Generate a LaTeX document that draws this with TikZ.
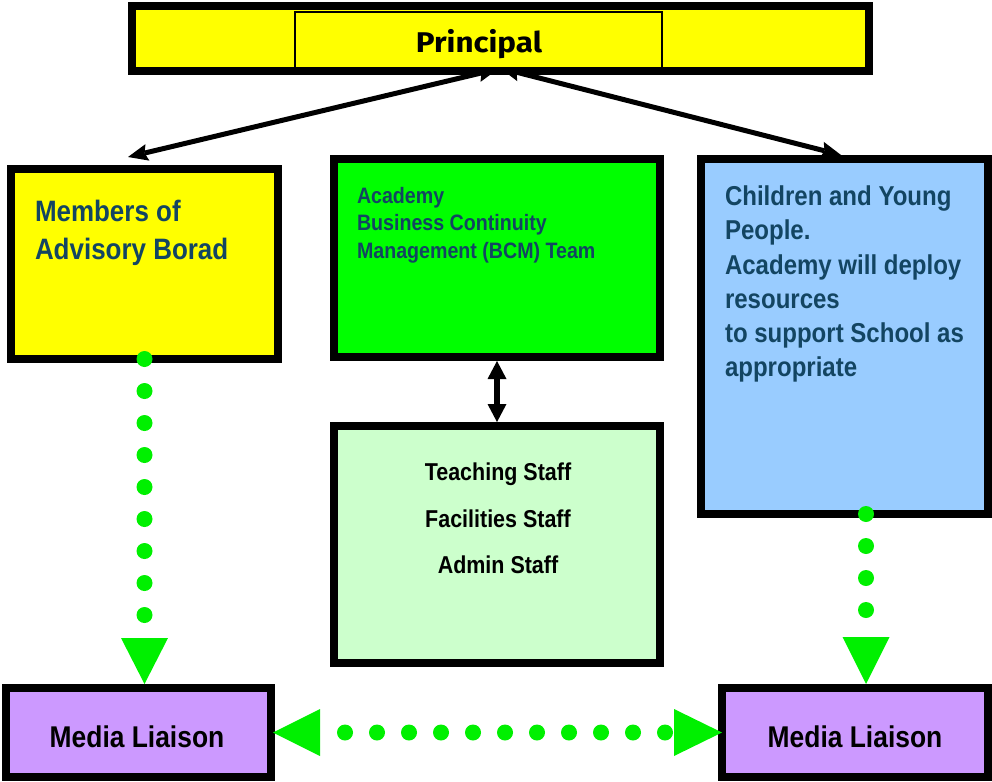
\documentclass[tikz,border=0pt]{standalone}
\usepackage{fontspec}
\usetikzlibrary{arrows.meta,calc}

\newfontfamily\narrowsans{Liberation Sans}[FakeStretch=0.88]
\newfontfamily\headsans{Fira Sans}[FakeStretch=1.1]

\definecolor{chartyellow}{HTML}{FFFF00}
\definecolor{chartgreen}{HTML}{00FF00}
\definecolor{chartblue}{HTML}{99CCFF}
\definecolor{chartmint}{HTML}{CCFFCC}
\definecolor{chartlilac}{HTML}{CC99FF}
\definecolor{chartdots}{HTML}{00F000}
\definecolor{chartink}{HTML}{134562}

\begin{document}
\begin{tikzpicture}[x=1pt,y=-1pt,
  orgbox/.style={draw=black, line width=8pt, inner sep=0pt, outer sep=0pt},
  boxtext/.style={inner sep=0pt, outer sep=0pt, align=left, text=chartink},
  linkarrow/.style={draw=black, line width=5pt,
    {Stealth[length=20pt,width=17pt,inset=3pt,line width=0pt]}-{Stealth[length=20pt,width=17pt,inset=3pt,line width=0pt]}},
  dotlink/.style={draw=chartdots, line width=16pt, line cap=round,
    dash pattern=on 0pt off 32pt}
]
\useasboundingbox (0,0) rectangle (992,781);

% boxes (positions are the centre lines of the thick borders)
\node[orgbox, fill=chartyellow, minimum width=267pt, minimum height=190pt] (adv) at (144.5,264) {};
\node[orgbox, fill=chartgreen, minimum width=326pt, minimum height=198pt] (bcm) at (497,258) {};
\node[orgbox, fill=chartblue, minimum width=287pt, minimum height=355pt] (cyp) at (844.5,336.5) {};
\node[orgbox, fill=chartmint, minimum width=326pt, minimum height=237pt] (staff) at (497,544.5) {};
\node[orgbox, fill=chartlilac, minimum width=265pt, minimum height=89pt] (mlleft) at (138.5,732.5) {};
\node[orgbox, fill=chartlilac, minimum width=266pt, minimum height=89pt] (mlright) at (855,732.5) {};

% arrows from the principal (drawn before the principal box covers their ends)
\coordinate (pleft) at (498,69);
\coordinate (pright) at (500,68);
\coordinate (advtip) at ($(adv.north west)+(117,-12)$);
\coordinate (cyptip) at ($(cyp.north west)+(140,-4)$);
\draw[linkarrow] (pleft) -- (advtip);
\draw[linkarrow] (pright) -- (cyptip);

% principal
\node[orgbox, fill=chartyellow, minimum width=737pt, minimum height=65pt] (principal) at (500.5,38.5) {};
\node[draw=black, line width=1.2pt, inner sep=0pt, outer sep=0pt, minimum width=367pt, minimum height=62pt] (pinner) at (478.5,43) {};
\draw[black, line width=8pt] (principal.south west) -- (principal.south east);
\node[anchor=base, inner sep=0pt, font=\headsans\bfseries\fontsize{28.5}{32}\selectfont] (ptext) at (479,52.5) {Principal};

% box texts
\node[boxtext, anchor=north west, font=\narrowsans\bfseries\fontsize{29.5}{38}\selectfont] (advtext) at (35,200) {Members of\\Advisory Borad};
\node[boxtext, anchor=north west, font=\narrowsans\bfseries\fontsize{22.3}{27.5}\selectfont] (bcmtext) at (357,187) {Academy\\Business Continuity\\Management (BCM) Team};
\node[boxtext, anchor=north west, font=\narrowsans\bfseries\fontsize{27.3}{34.2}\selectfont] (cyptext) at (725,186) {Children and Young\\People.\\Academy will deploy\\resources\\to support School as\\appropriate};
\node[inner sep=0pt, anchor=north, align=center, text=black, font=\narrowsans\bfseries\fontsize{24.4}{46.5}\selectfont] (stafftext) at (498,463) {Teaching Staff\\Facilities Staff\\Admin Staff};
\node[inner sep=0pt, anchor=base, text=black, font=\narrowsans\bfseries\fontsize{30}{36}\selectfont] (mllefttext) at (137,747) {Media Liaison};
\node[inner sep=0pt, anchor=base, text=black, font=\narrowsans\bfseries\fontsize{30}{36}\selectfont] (mlrighttext) at (855,747) {Media Liaison};

% BCM team <-> staff
\draw[black, line width=6pt, shorten <=4pt, shorten >=4pt,
  {Triangle[length=18pt,width=19pt,line width=0pt]}-{Triangle[length=18pt,width=19pt,line width=0pt]}]
  (bcm.south) -- (staff.north);

% dotted green links to media liaison
\coordinate (cypfoot) at ($(cyp.south)+(21.5,0)$);
\draw[dotlink, shorten >=4pt, -{Triangle[length=46pt,width=47pt,line width=0pt]}]
  (adv.south) -- (adv.south |- mlleft.north);
\draw[dotlink, shorten >=4pt, -{Triangle[length=47pt,width=47pt,line width=0pt]}]
  (cypfoot) -- (cypfoot |- mlright.north);
\draw[dotlink, dash phase=7pt, shorten <=2pt,
  {Triangle[length=47pt,width=47pt,line width=0pt]}-{Triangle[length=48pt,width=47pt,line width=0pt]}]
  (mlleft.east) -- (mlright.west);
\end{tikzpicture}
\end{document}
